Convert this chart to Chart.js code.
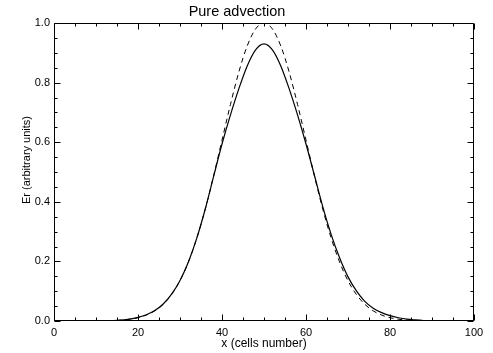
<!DOCTYPE html>
<html>
<head>
<meta charset="utf-8">
<script src="https://cdn.jsdelivr.net/npm/chart.js@4"></script>
<style>
  html, body { margin: 0; padding: 0; background: #fff; }
  #c { display: block; }
</style>
</head>
<body>
<canvas id="c" width="493" height="353"></canvas>
<script>
// ---- data ----
const chartTitle = 'Pure advection';
const xTitle = 'x (cells number)';
const yTitle = 'Er (arbitrary units)';

const cells = [0,2,4,6,8,10,12,14,16,18,20,22,24,26,28,30,32,34,36,38,40,42,44,46,48,50,
               52,54,56,58,60,62,64,66,68,70,72,74,76,78,80,82,84,86,88,90,92,94,96,98,100];

// dashed: initial / exact profile
const exactEr = [0,0,0,0,0.0001,0.0003,0.0007,0.0015,0.003,0.006,0.011,0.020,0.034,0.056,0.089,0.135,
                 0.198,0.278,0.375,0.487,0.607,0.726,0.835,0.923,0.980,1.000,
                 0.980,0.923,0.835,0.726,0.607,0.487,0.375,0.278,0.198,0.135,0.089,0.056,0.034,0.020,
                 0.011,0.006,0.003,0.0015,0.0007,0.0003,0.0001,0,0,0,0];

// solid: numerical result
const numEr = [0,0,0,0,0.0001,0.0003,0.0007,0.0015,0.003,0.006,0.012,0.021,0.035,0.057,0.090,0.136,
               0.198,0.278,0.375,0.485,0.594,0.691,0.779,0.856,0.910,0.930,
               0.910,0.856,0.779,0.691,0.594,0.489,0.383,0.290,0.212,0.148,0.101,0.066,0.043,0.028,
               0.018,0.011,0.006,0.0035,0.0017,0.0008,0.0003,0.0001,0,0,0];

const xMajorTicks = [0,20,40,60,80,100];
const xMinorTicks = [5,10,15,25,30,35,45,50,55,65,70,75,85,90,95];
const yMajorTicks = [0.0,0.2,0.4,0.6,0.8,1.0];
const yMinorTicks = [0.05,0.1,0.15,0.25,0.3,0.35,0.45,0.5,0.55,0.65,0.7,0.75,0.85,0.9,0.95];

const FONT = '"Liberation Sans", Arial, Helvetica, sans-serif';

const framePlugin = {
  id: 'frame',
  afterDatasetsDraw(chart) {
    const ctx = chart.ctx;
    const xs = chart.scales.x, ys = chart.scales.y;
    const a = chart.chartArea;
    const L = Math.round(a.left) + 0.5, R = Math.round(a.right) - 0.5;
    const T = Math.round(a.top) + 0.5, B = Math.round(a.bottom) - 0.5;
    ctx.save();
    ctx.strokeStyle = '#000';
    ctx.lineWidth = 1;
    ctx.beginPath();
    ctx.rect(L, T, R - L, B - T);
    const xt = (vals, len) => {
      vals.forEach(v => {
        const px = Math.round(xs.getPixelForValue(v)) + 0.5;
        ctx.moveTo(px, B); ctx.lineTo(px, B - len);
        ctx.moveTo(px, T); ctx.lineTo(px, T + len);
      });
    };
    const yt = (vals, len) => {
      vals.forEach(v => {
        const py = Math.round(ys.getPixelForValue(v)) + 0.5;
        ctx.moveTo(L, py); ctx.lineTo(L + len, py);
        ctx.moveTo(R, py); ctx.lineTo(R - len, py);
      });
    };
    xt(xMajorTicks, 6); xt(xMinorTicks, 3);
    yt(yMajorTicks, 6); yt(yMinorTicks, 3);
    ctx.stroke();

    // y-axis title (placed slightly above the axis centre, as in the reference)
    ctx.fillStyle = '#000';
    ctx.font = '11px ' + FONT;
    ctx.textAlign = 'center';
    ctx.textBaseline = 'middle';
    ctx.translate(27, (a.top + a.bottom) / 2 - 12);
    ctx.rotate(-Math.PI / 2);
    ctx.fillText(yTitle, 0, 0);
    ctx.restore();
  }
};

new Chart(document.getElementById('c'), {
  type: 'line',
  data: {
    datasets: [
      {
        label: 'numerical',
        data: cells.map((x, i) => ({x, y: numEr[i]})),
        borderColor: '#000',
        borderWidth: 1.2,
        pointRadius: 0,
        cubicInterpolationMode: 'monotone',
        fill: false
      },
      {
        label: 'exact',
        data: cells.map((x, i) => ({x, y: exactEr[i]})),
        borderColor: '#000',
        borderWidth: 1,
        borderDash: [5, 4],
        pointRadius: 0,
        cubicInterpolationMode: 'monotone',
        fill: false
      }
    ]
  },
  options: {
    responsive: false,
    animation: false,
    devicePixelRatio: 1,
    layout: { padding: { left: 0, right: 19, top: 0, bottom: 0 } },
    plugins: {
      legend: { display: false },
      tooltip: { enabled: false },
      title: {
        display: true,
        text: chartTitle,
        color: '#000',
        font: { family: FONT, size: 14.5, weight: 'normal', lineHeight: 1.2 },
        padding: { top: 3.2, bottom: 2.4 }
      }
    },
    scales: {
      x: {
        type: 'linear',
        min: 0, max: 100,
        grid: { display: false, drawTicks: false },
        border: { display: false },
        afterFit(s) { s.height = 32; },
        afterBuildTicks(s) { s.ticks = xMajorTicks.map(v => ({value: v})); },
        ticks: {
          color: '#000',
          padding: 5,
          maxRotation: 0,
          font: { family: FONT, size: 11 },
          callback: v => String(v)
        },
        title: {
          display: true, text: xTitle, color: '#000',
          font: { family: FONT, size: 12, lineHeight: 1.2 },
          padding: { top: 0, bottom: 1.8 }
        }
      },
      y: {
        type: 'linear',
        min: 0, max: 1,
        grid: { display: false, drawTicks: false },
        border: { display: false },
        afterFit(s) { s.width = 54; },
        afterBuildTicks(s) { s.ticks = yMajorTicks.map(v => ({value: v})); },
        ticks: {
          color: '#000',
          padding: 4,
          font: { family: FONT, size: 11 },
          callback: v => Number(v).toFixed(1)
        },
        title: { display: false }
      }
    }
  },
  plugins: [framePlugin]
});
</script>
</body>
</html>
